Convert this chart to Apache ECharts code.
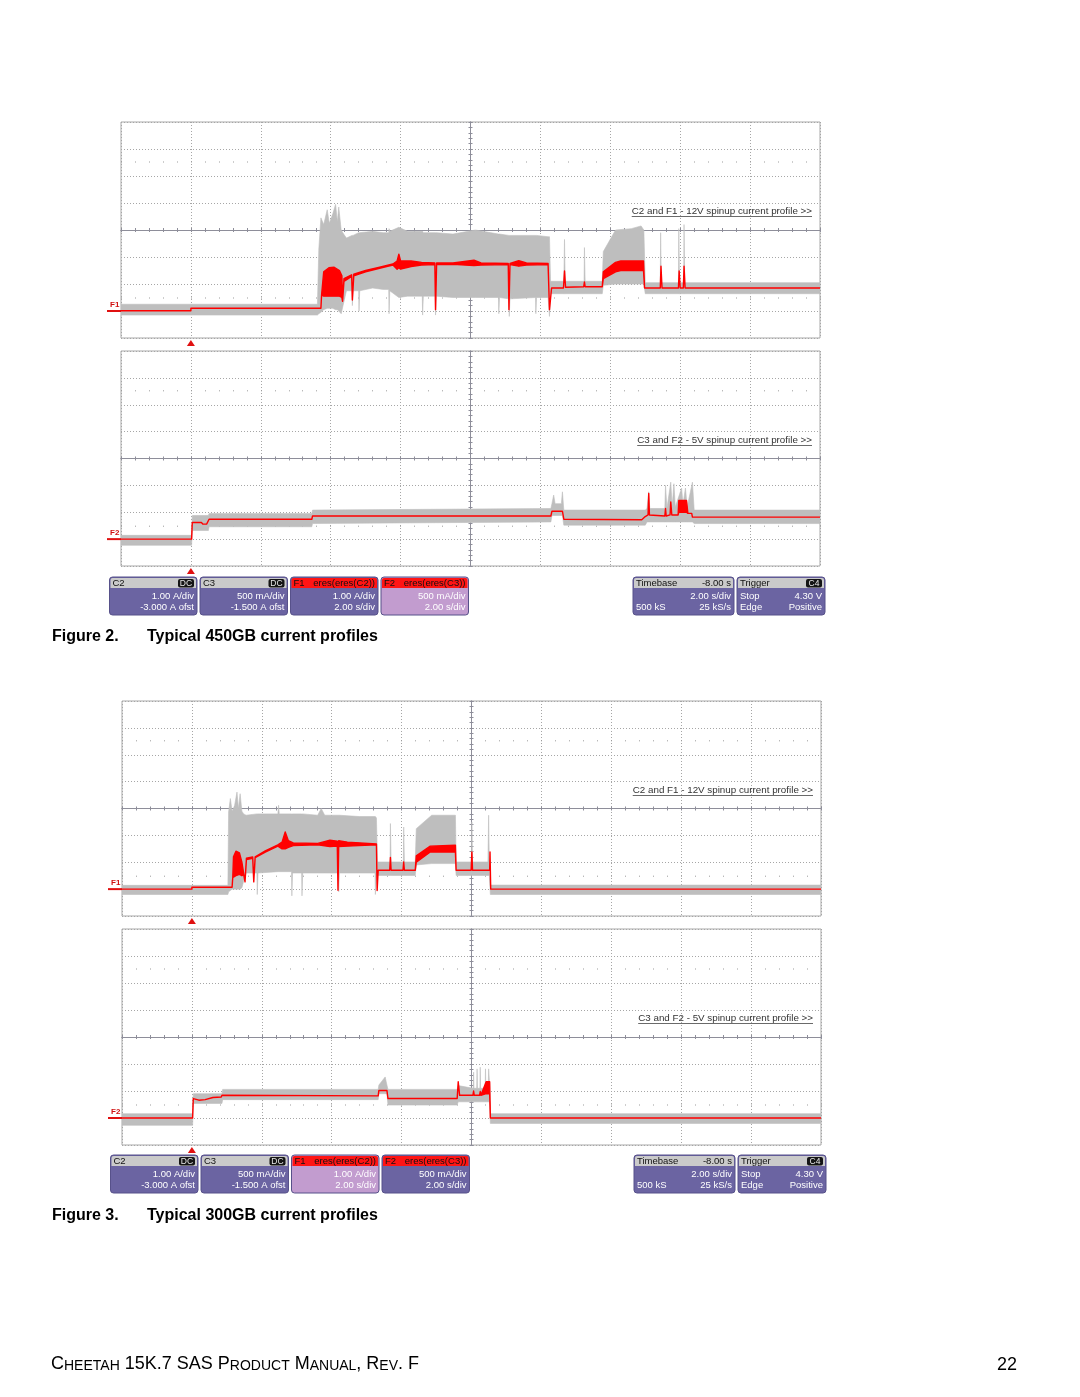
<!DOCTYPE html>
<html><head><meta charset="utf-8">
<script src="https://cdn.jsdelivr.net/npm/echarts@6/dist/echarts.min.js"></script>
<style>html,body{margin:0;padding:0;background:#fff}#c{width:1080px;height:1397px}</style>
</head><body><div id="c"></div><script>
// ---------- axis definitions ----------
const timeMin = -2, timeMax = 18, timeStep = 2, timeMinor = 0.4;   // 2.00 s/div, trigger at t = 0
const triggerTime = 0;
const f1Axis = { min: -1, max: 7, step: 1, minor: 0.2 };           // 1.00 A/div, -3.000 A ofst
const f2Axis = { min: -0.5, max: 3.5, step: 0.5, minor: 0.1 };     // 500 mA/div, -1.500 A ofst

// ---------- data: rows of [time s, low A, high A] (envelope of the trace) ----------
// Figure 2 (450GB) - 12 V channel
const fig2C2 = [
  [-2,-0.15,0.25],[3.62,-0.15,0.25],[3.66,-0.1,2.3],[3.72,-0.05,3.45],[3.80,0.05,3.2],[3.90,0.1,3.75],
  [3.96,0.1,3.25],[4.06,0.1,3.6],[4.14,0.05,3.95],[4.19,0.05,3.3],[4.23,0.0,3.85],[4.30,-0.1,3.0],
  [4.37,0.3,2.85],[4.45,0.75,2.7],[4.61,0.75,2.8],[4.62,0.2,2.8],[4.64,0.75,2.8],[4.80,0.75,2.9],
  [4.81,0.0,2.9],[4.83,0.75,2.9],[5.2,0.85,2.95],[5.5,0.8,2.9],[5.66,0.8,2.9],[5.67,-0.1,3.05],
  [5.69,0.75,2.95],[5.95,0.5,3.1],[6.2,0.55,2.95],[6.62,0.55,2.95],[6.63,-0.15,2.95],[6.65,0.55,2.9],
  [6.99,0.55,2.9],[7.0,-0.15,2.9],[7.02,0.55,2.9],[7.5,0.5,2.85],[8.14,0.5,3.0],[8.80,0.5,2.85],
  [8.81,-0.1,2.85],[8.83,0.5,2.85],[9.10,0.45,2.8],[9.11,-0.2,2.8],[9.13,0.45,2.8],[9.86,0.5,2.8],
  [9.87,-0.1,2.8],[9.89,0.5,2.8],[10.22,0.5,2.75],[10.26,-0.2,2.75],[10.29,0.64,1.1],[10.67,0.64,1.1],
  [10.69,0.64,2.65],[10.71,0.64,1.1],[11.25,0.64,1.1],[11.26,0.64,2.35],[11.28,0.64,1.1],[11.77,0.64,1.1],
  [11.80,0.95,2.2],[12.15,1.0,3.0],[12.6,1.0,3.05],[12.88,1.0,3.15],[12.96,1.0,3.0],[13.00,0.64,1.05],
  [13.43,0.64,1.05],[13.44,0.64,2.9],[13.46,0.64,1.05],[13.95,0.64,1.05],[13.96,0.64,3.05],[13.98,0.64,1.05],
  [14.10,0.64,1.05],[14.11,0.64,3.2],[14.13,0.64,1.05],[18,0.64,1.05]
];
const fig2F1 = [
  [-2,0.01,0.01],[0,0.01,0.01],[0,0.1,0.1],[3.72,0.1,0.1],[3.74,0.6,0.6],[3.80,0.55,1.45],[3.95,0.55,1.6],
  [4.10,0.55,1.62],[4.25,0.55,1.5],[4.32,0.5,1.3],[4.34,0.36,0.36],[4.38,1.1,1.2],[4.60,1.28,1.34],
  [4.62,0.41,0.41],[4.66,1.3,1.36],[5.0,1.45,1.5],[5.4,1.58,1.62],[5.78,1.7,1.74],[5.9,1.55,1.85],
  [5.95,1.6,2.1],[6.0,1.55,1.85],[6.3,1.65,1.85],[6.6,1.7,1.8],[6.98,1.72,1.78],[7.0,0.05,0.05],
  [7.03,1.72,1.78],[7.5,1.73,1.78],[8.1,1.68,1.88],[8.3,1.7,1.78],[9.08,1.72,1.76],[9.1,0.05,0.05],
  [9.13,1.72,1.76],[9.38,1.66,1.86],[9.6,1.7,1.78],[10.22,1.72,1.76],[10.26,0.05,0.05],[10.32,0.85,0.85],
  [10.66,0.85,0.85],[10.69,1.48,1.48],[10.72,0.88,0.88],[11.24,0.9,0.9],[11.26,1.08,1.08],[11.28,0.9,0.9],
  [11.77,0.9,0.9],[11.80,1.2,1.45],[12.15,1.45,1.8],[12.3,1.5,1.85],[12.95,1.5,1.85],[12.98,0.85,0.85],
  [13.43,0.85,0.85],[13.45,1.66,1.66],[13.48,0.85,0.85],[13.95,0.85,0.85],[13.97,1.48,1.48],[14.0,0.85,0.85],
  [14.09,0.85,0.85],[14.11,1.66,1.66],[14.14,0.85,0.85],[18,0.85,0.85]
];
// Figure 2 (450GB) - 5 V channel
const fig2C3 = [
  [-2,-0.115,0.07],[0.02,-0.115,0.07],[0.04,0.16,0.44],[0.5,0.16,0.44],[0.52,0.23,0.475],[3.46,0.23,0.475],
  [3.48,0.29,0.54],[10.30,0.32,0.57],[10.33,0.44,0.66],[10.38,0.44,0.82],[10.42,0.44,0.66],[10.60,0.44,0.66],
  [10.63,0.44,0.88],[10.67,0.26,0.54],[13.0,0.26,0.54],[13.05,0.32,0.57],[13.10,0.32,0.88],[13.13,0.32,0.57],
  [13.56,0.32,0.57],[13.58,0.32,1.0],[13.62,0.32,0.57],[13.73,0.32,1.06],[13.77,0.32,0.6],[13.82,0.32,1.03],
  [13.86,0.32,0.6],[14.04,0.32,0.95],[14.08,0.32,0.65],[14.15,0.32,0.95],[14.2,0.32,0.6],[14.35,0.32,1.06],
  [14.40,0.29,0.54],[18,0.29,0.54]
];
const fig2F2 = [
  [-2,0,0],[0.02,0,0],[0.04,0.31,0.31],[0.30,0.31,0.31],[0.34,0.28,0.28],[0.45,0.28,0.28],[0.52,0.37,0.37],
  [3.46,0.37,0.37],[3.48,0.43,0.43],[10.30,0.43,0.43],[10.33,0.52,0.52],[10.63,0.52,0.52],[10.67,0.37,0.37],
  [12.9,0.36,0.36],[13.0,0.42,0.42],[13.08,0.45,0.45],[13.10,0.85,0.85],[13.12,0.45,0.45],[13.56,0.43,0.43],
  [13.58,0.57,0.57],[13.6,0.43,0.43],[13.71,0.45,0.45],[13.73,0.69,0.69],[13.76,0.45,0.45],[13.94,0.45,0.45],
  [13.96,0.5,0.72],[14.18,0.5,0.72],[14.22,0.48,0.48],[14.33,0.48,0.48],[14.35,0.41,0.41],[18,0.41,0.41]
];
// Figure 3 (300GB) - 12 V channel
const fig3C2 = [
  [-2,-0.2,0.14],[1.03,-0.2,0.14],[1.05,-0.1,2.87],[1.10,-0.05,3.37],[1.15,0.0,2.9],[1.22,0.0,3.1],
  [1.29,0.0,3.61],[1.33,0.0,3.0],[1.38,0.0,3.55],[1.43,0.05,2.9],[1.48,0.3,2.8],[1.55,0.6,2.75],
  [1.86,0.6,2.8],[1.87,-0.2,2.8],[1.89,0.6,2.8],[2.46,0.65,2.8],[2.48,0.65,3.12],[2.50,0.65,2.8],
  [2.85,0.65,2.8],[2.86,-0.25,2.8],[2.88,0.6,2.8],[3.14,0.6,2.8],[3.15,-0.25,2.8],[3.17,0.6,2.8],
  [3.6,0.6,2.75],[3.7,0.6,3.0],[3.8,0.6,2.75],[4.19,0.6,2.75],[4.20,-0.1,2.75],[4.22,0.6,2.75],
  [4.8,0.6,2.7],[5.24,0.6,2.7],[5.25,-0.2,2.7],[5.28,0.5,2.65],[5.31,0.51,1.01],[5.67,0.51,1.01],
  [5.68,0.51,2.44],[5.70,0.51,1.01],[6.05,0.51,1.01],[6.06,0.51,2.31],[6.08,0.51,1.01],[6.39,0.51,1.01],
  [6.42,0.9,2.25],[6.86,0.95,2.75],[7.54,0.95,2.75],[7.56,0.51,1.01],[8.00,0.51,1.01],[8.01,0.51,2.5],
  [8.03,0.51,1.01],[8.47,0.51,1.01],[8.49,0.51,2.75],[8.51,0.51,1.01],[8.54,-0.2,0.15],[18,-0.2,0.15]
];
const fig3F1 = [
  [-2,0,0],[0,0,0],[0,0.07,0.07],[1.15,0.07,0.07],[1.17,0.45,0.45],[1.19,0.45,1.2],[1.26,0.5,1.41],
  [1.36,0.55,1.35],[1.43,0.5,1.0],[1.48,0.55,0.6],[1.52,0.27,0.27],[1.56,1.1,1.15],[1.74,1.15,1.2],
  [1.77,0.27,0.27],[1.81,1.17,1.2],[2.1,1.38,1.42],[2.46,1.6,1.65],[2.58,1.5,1.75],[2.67,1.5,2.13],
  [2.76,1.55,1.8],[2.9,1.62,1.72],[3.6,1.65,1.7],[3.95,1.58,1.82],[4.16,1.6,1.78],[4.18,-0.04,-0.04],
  [4.2,1.58,1.8],[4.45,1.6,1.75],[5.28,1.65,1.68],[5.30,-0.05,-0.05],[5.33,0.70,0.70],[5.66,0.70,0.70],
  [5.68,1.18,1.18],[5.70,0.70,0.70],[6.04,0.70,0.70],[6.06,1.01,1.01],[6.08,0.70,0.70],[6.39,0.70,0.70],
  [6.42,1.0,1.24],[6.82,1.38,1.6],[7.54,1.38,1.63],[7.56,0.70,0.70],[7.99,0.70,0.70],[8.01,1.38,1.38],
  [8.03,0.70,0.70],[8.52,0.70,0.70],[8.53,1.38,1.38],[8.55,0,0],[18,0,0]
];
// Figure 3 (300GB) - 5 V channel
const fig3C3 = [
  [-2,-0.135,0.08],[0.02,-0.135,0.08],[0.04,0.27,0.45],[0.86,0.27,0.45],[0.88,0.34,0.53],[5.33,0.34,0.53],
  [5.35,0.45,0.61],[5.53,0.45,0.76],[5.58,0.45,0.61],[5.61,0.24,0.53],[7.59,0.24,0.53],[7.62,0.3,0.6],
  [8.05,0.3,0.55],[8.06,0.3,0.85],[8.07,0.3,0.55],[8.15,0.3,0.55],[8.16,0.3,0.91],[8.17,0.3,0.55],
  [8.24,0.3,0.55],[8.25,0.3,0.94],[8.26,0.3,0.55],[8.39,0.3,0.55],[8.40,0.3,0.91],[8.41,0.3,0.6],
  [8.48,0.3,0.6],[8.49,0.3,0.91],[8.52,0.3,0.6],[8.54,-0.1,0.08],[18,-0.1,0.08]
];
const fig3F2 = [
  [-2,0,0],[0.02,0,0],[0.04,0.36,0.36],[0.2,0.33,0.33],[0.38,0.34,0.34],[0.6,0.38,0.38],[0.84,0.39,0.39],
  [0.86,0.42,0.42],[5.33,0.41,0.41],[5.35,0.51,0.51],[5.58,0.51,0.51],[5.61,0.36,0.36],[7.59,0.36,0.36],
  [7.62,0.67,0.67],[7.66,0.42,0.42],[8.04,0.42,0.42],[8.06,0.5,0.5],[8.08,0.42,0.42],[8.23,0.42,0.42],
  [8.25,0.49,0.49],[8.27,0.42,0.42],[8.42,0.45,0.67],[8.52,0.45,0.67],[8.54,0,0],[18,0,0]
];

// ---------- texts ----------
const note12V = 'C2 and F1 - 12V spinup current profile >>';
const note5V = 'C3 and F2 - 5V spinup current profile >>';
const captions = [['Figure 2.', 'Typical 450GB current profiles'], ['Figure 3.', 'Typical 300GB current profiles']];
const chanBoxes = [
  { head: 'C2', badge: 'DC', lines: [['', '1.00 A/div'], ['', '-3.000 A ofst']] },
  { head: 'C3', badge: 'DC', lines: [['', '500 mA/div'], ['', '-1.500 A ofst']] },
  { head: 'F1', headRight: 'eres(eres(C2))', red: true, lines: [['', '1.00 A/div'], ['', '2.00 s/div']] },
  { head: 'F2', headRight: 'eres(eres(C3))', red: true, lines: [['', '500 mA/div'], ['', '2.00 s/div']] }
];
const timebaseBox = { head: 'Timebase', headRight: '-8.00 s', lines: [['', '2.00 s/div'], ['500 kS', '25 kS/s']] };
const triggerBox = { head: 'Trigger', badge: 'C4', lines: [['Stop', '4.30 V'], ['Edge', 'Positive']] };

// ---------- layout ----------
const FONT = '"Liberation Sans", Arial, Helvetica, sans-serif';
const GRAY = '#bebebe', RED = '#ff0000';
const panels = [
  { rect: [121, 122, 699, 216], ax: f1Axis, gray: fig2C2, red: fig2F1, tag: 'F1', note: note12V },
  { rect: [121, 351, 699, 215], ax: f2Axis, gray: fig2C3, red: fig2F2, tag: 'F2', note: note5V },
  { rect: [122, 701, 699, 215], ax: f1Axis, gray: fig3C2, red: fig3F1, tag: 'F1', note: note12V },
  { rect: [122, 929, 699, 216], ax: f2Axis, gray: fig3C3, red: fig3F2, tag: 'F2', note: note5V }
];

const grid = [], xAxis = [], yAxis = [], series = [];
const mainX = [], mainY = [];
const hidden = { axisLabel: { show: false }, splitLine: { show: false } };
panels.forEach((p, i) => {
  const [l, t, w, h] = p.rect;
  grid.push({ left: l, top: t, width: w, height: h, show: true, borderColor: '#a8a8a8', borderWidth: 1, backgroundColor: '#fff' });
  mainX.push(xAxis.length);
  xAxis.push({ gridIndex: i, type: 'value', min: timeMin, max: timeMax, interval: timeStep,
    axisLine: { show: false, onZero: false }, axisTick: { show: false }, axisLabel: { show: false },
    splitLine: { show: true, lineStyle: { color: '#a6a6a6', type: [1, 2], width: 1 } } });
  [false, true].forEach(inside => xAxis.push(Object.assign({ gridIndex: i, type: 'value', position: 'bottom', offset: -h / 2,
    min: timeMin, max: timeMax, interval: timeMinor,
    axisLine: { show: true, onZero: false, lineStyle: { color: '#8e8e9a', width: 1 } },
    axisTick: { show: true, inside, length: 2, lineStyle: { color: '#8e8e9a' } } }, hidden)));
  ['top', 'bottom'].forEach(pos => xAxis.push(Object.assign({ gridIndex: i, type: 'value', position: pos, offset: -1.5 * h / 8,
    min: timeMin, max: timeMax, interval: timeMinor,
    axisLine: { show: false, onZero: false },
    axisTick: { show: true, length: 1, lineStyle: { color: '#9a9a9a' } } }, hidden)));
  mainY.push(yAxis.length);
  yAxis.push({ gridIndex: i, type: 'value', min: p.ax.min, max: p.ax.max, interval: p.ax.step,
    axisLine: { show: false, onZero: false }, axisTick: { show: false }, axisLabel: { show: false },
    splitLine: { show: true, lineStyle: { color: '#a6a6a6', type: [1, 2], width: 1 } } });
  [false, true].forEach(inside => yAxis.push(Object.assign({ gridIndex: i, type: 'value', position: 'left', offset: -w / 2,
    min: p.ax.min, max: p.ax.max, interval: p.ax.minor,
    axisLine: { show: true, onZero: false, lineStyle: { color: '#8e8e9a', width: 1 } },
    axisTick: { show: true, inside, length: 2, lineStyle: { color: '#8e8e9a' } } }, hidden)));
  series.push(trace(i, p.gray, GRAY, 0.6, 2));
  series.push(trace(i, p.red, RED, 1.4, 3));
});

function trace(i, rows, color, lw, z) {
  return {
    type: 'custom', xAxisIndex: mainX[i], yAxisIndex: mainY[i], data: rows,
    encode: { x: 0, y: [1, 2] }, clip: true, z, silent: true, animation: false,
    renderItem: function (params, api) {
      if (params.dataIndex !== 0) return null;
      const up = rows.map(r => api.coord([r[0], r[2]]));
      const dn = rows.map(r => api.coord([r[0], r[1]])).reverse();
      return { type: 'polygon', shape: { points: up.concat(dn) },
        style: { fill: color, stroke: color, lineWidth: lw, lineJoin: 'round' } };
    }
  };
}

const chart = echarts.init(document.getElementById('c'), null, { renderer: 'canvas' });
chart.setOption({ animation: false, backgroundColor: '#fff', grid, xAxis, yAxis, series });

// ---------- decorations ----------
const mctx = document.createElement('canvas').getContext('2d');
function tw(text, size, weight) { mctx.font = (weight || 'normal') + ' ' + size + 'px ' + FONT; return mctx.measureText(text).width; }
const g = [];
function txt(x, y, text, size, fill, align, weight, vAlign) {
  g.push({ type: 'text', x, y, silent: true, z: 100,
    style: { text, fontSize: size, fontFamily: FONT, fontWeight: weight || 'normal', fill, align: align || 'left', verticalAlign: vAlign || 'middle' } });
}
panels.forEach((p, i) => {
  const [l, t, w, h] = p.rect;
  const finder = { xAxisIndex: mainX[i], yAxisIndex: mainY[i] };
  const zero = chart.convertToPixel(finder, [timeMin, 0]);
  const trig = chart.convertToPixel(finder, [triggerTime, p.ax.min]);
  g.push({ type: 'line', silent: true, shape: { x1: l - 14, y1: zero[1], x2: l, y2: zero[1] }, style: { stroke: '#e01010', lineWidth: 2 } });
  txt(l - 11, zero[1] - 6, p.tag, 8, '#d01010', 'left', 'bold');
  g.push({ type: 'polygon', silent: true, shape: { points: [[trig[0], trig[1] + 2], [trig[0] - 4, trig[1] + 8], [trig[0] + 4, trig[1] + 8]] }, style: { fill: '#e01010' } });
  const nx = l + w - 8, ny = t + 89.5, nw = tw(p.note, 9.8);
  txt(nx, ny, p.note, 9.8, '#333', 'right');
  g.push({ type: 'line', silent: true, shape: { x1: nx - nw, y1: ny + 5, x2: nx, y2: ny + 5 }, style: { stroke: '#444', lineWidth: 0.8 } });
});

function box(x, y, w, spec, highlight) {
  const H = 38;
  g.push({ type: 'rect', silent: true, shape: { x, y, width: w, height: H, r: 3 }, style: { fill: highlight ? '#c29ccf' : '#6b64a2', stroke: '#57518a', lineWidth: 1 } });
  g.push({ type: 'rect', silent: true, shape: { x: x + 1, y: y + 1, width: w - 2, height: 10, r: [2, 2, 0, 0] }, style: { fill: spec.red ? '#ff1414' : '#cacaca' } });
  txt(x + 3, y + 6.5, spec.head, 9.5, '#111');
  if (spec.headRight) txt(x + w - 3, y + 6.5, spec.headRight, 9.5, '#111', 'right');
  if (spec.badge) {
    g.push({ type: 'rect', silent: true, shape: { x: x + w - 19, y: y + 2, width: 16, height: 8.5, r: 2 }, style: { fill: '#151515' } });
    txt(x + w - 11, y + 6.5, spec.badge, 8.5, '#e8e8e8', 'center');
  }
  spec.lines.forEach((ln, k) => {
    const yy = y + 19 + k * 11.5;
    if (ln[0]) txt(x + 3, yy, ln[0], 9.5, '#fff');
    if (ln[1]) txt(x + w - 3, yy, ln[1], 9.5, '#fff', 'right');
  });
}
[[0, 0, 3], [1, 578, 2]].forEach(([dx, dy, hl]) => {
  const xs = [109.5, 200, 290.5, 381];
  chanBoxes.forEach((b, k) => box(xs[k] + dx, 577 + dy, 87.5, b, k === hl));
  box(633 + dx, 577 + dy, 101, timebaseBox, false);
  box(737 + dx, 577 + dy, 88, triggerBox, false);
});
captions.forEach((c, k) => {
  const y = k === 0 ? 637 : 1216;
  txt(52, y, c[0], 16, '#000', 'left', 'bold');
  txt(147, y, c[1], 16, '#000', 'left', 'bold');
});
g.push({ type: 'text', x: 51, y: 1373, silent: true, style: {
  text: '{a|C}{b|HEETAH}{a| 15K.7 SAS P}{b|RODUCT}{a| M}{b|ANUAL}{a|, R}{b|EV}{a|. F}',
  verticalAlign: 'bottom', align: 'left',
  rich: { a: { fontSize: 18, fontFamily: FONT, fill: '#000', verticalAlign: 'bottom' },
          b: { fontSize: 14, fontFamily: FONT, fill: '#000', verticalAlign: 'bottom' } } } });
txt(1017, 1365, '22', 18, '#000', 'right');
chart.setOption({ graphic: g });
</script></body></html>
